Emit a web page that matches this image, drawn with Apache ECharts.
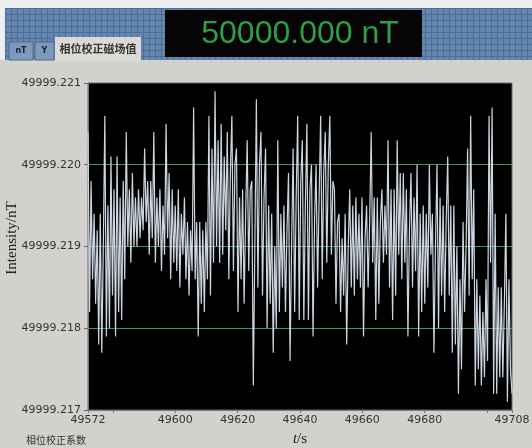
<!DOCTYPE html>
<html><head><meta charset="utf-8">
<script src="https://cdn.jsdelivr.net/npm/echarts@6/dist/echarts.min.js"></script>
<style>html,body{margin:0;padding:0;background:#d2d0cc;}#c{width:532px;height:448px;}</style>
</head><body><div id="c"></div><script>
// ---- data ----
const intensity = [
49999.2204,49999.2182,49999.2198,
49999.2186,49999.2194,49999.2183,49999.2192,
49999.2178,49999.2194,49999.2177,49999.2190,
49999.2206,49999.2179,49999.2195,
49999.2180,49999.2201,49999.2184,49999.2197,49999.2179,
49999.2201,49999.2182,49999.2196,
49999.2181,49999.2198,49999.2186,
49999.2204,49999.2190,49999.2197,
49999.2188,49999.2199,49999.2190,49999.2196,
49999.2190,49999.2197,49999.2191,49999.2196,49999.2192,
49999.2202,49999.2193,49999.2198,
49999.2189,49999.2198,49999.2191,
49999.2204,49999.2188,49999.2196,
49999.2190,49999.2197,49999.2187,49999.2195,49999.2189,
49999.2205,49999.2191,49999.2199,
49999.2186,49999.2197,49999.2188,49999.2195,
49999.2187,49999.2197,49999.2185,49999.2194,49999.2189,49999.2196,
49999.2186,49999.2193,49999.2184,49999.2192,49999.2187,
49999.2207,49999.2186,49999.2193,
49999.2179,49999.2193,49999.2183,
49999.2192,49999.2182,49999.2193,49999.2186,
49999.2206,49999.2184,49999.2202,49999.2188,
49999.2209,49999.2190,49999.2203,49999.2188,
49999.2205,49999.2189,49999.2201,49999.2192,
49999.2204,49999.2186,49999.2199,
49999.2206,49999.2187,49999.2200,
49999.2202,49999.2182,49999.2196,49999.2186,
49999.2197,49999.2183,49999.2194,
49999.2203,49999.2187,49999.2197,
49999.2198,49999.2173,49999.2190,
49999.2208,49999.2185,49999.2200,
49999.2204,49999.2184,49999.2196,
49999.2202,49999.2180,49999.2195,49999.2183,
49999.2194,49999.2177,49999.2190,49999.2180,
49999.2203,49999.2182,49999.2194,
49999.2185,49999.2195,49999.2182,49999.2192,
49999.2199,49999.2176,49999.2190,
49999.2202,49999.2182,49999.2196,
49999.2206,49999.2181,49999.2198,
49999.2203,49999.2181,49999.2195,
49999.2205,49999.2181,49999.2197,
49999.2200,49999.2179,49999.2193,
49999.2200,49999.2185,49999.2196,
49999.2206,49999.2186,49999.2199,
49999.2204,49999.2188,49999.2200,
49999.2206,49999.2189,49999.2198,
49999.2197,49999.2183,49999.2193,
49999.2194,49999.2182,49999.2191,49999.2184,
49999.2194,49999.2178,49999.2190,
49999.2197,49999.2185,49999.2195,49999.2184,49999.2196,49999.2186,49999.2194,49999.2185,
49999.2196,49999.2179,49999.2191,
49999.2195,49999.2185,49999.2193,
49999.2204,49999.2188,49999.2196,
49999.2181,49999.2196,49999.2183,49999.2193,
49999.2197,49999.2188,49999.2195,49999.2189,
49999.2203,49999.2185,49999.2197,
49999.2181,49999.2197,49999.2184,
49999.2203,49999.2189,49999.2199,
49999.2186,49999.2199,49999.2188,
49999.2197,49999.2179,49999.2192,
49999.2199,49999.2185,49999.2196,49999.2187,
49999.2200,49999.2179,49999.2194,
49999.2182,49999.2195,49999.2183,49999.2194,49999.2185,
49999.2200,49999.2189,
49999.2194,49999.2177,49999.2190,
49999.2200,49999.2180,49999.2196,49999.2184,
49999.2195,49999.2182,49999.2193,
49999.2201,49999.2184,49999.2195,
49999.2177,49999.2195,49999.2178,49999.2190,
49999.2172,49999.2186,49999.2175,
49999.2193,49999.2182,49999.2190,
49999.2202,49999.2184,
49999.2206,49999.2186,49999.2197,
49999.2173,49999.2186,49999.2175,49999.2184,49999.2173,49999.2182,
49999.2174,49999.2186,49999.2176,
49999.2206,49999.2188,
49999.2207,49999.2172,49999.2194,
49999.2172,49999.2185,49999.2174,
49999.2185,49999.2174,49999.2183,
49999.2194,49999.2171,49999.2186,
49999.2175,49999.2172
];
const tStart = 49572, tEnd = 49708;
const xLabelValues = [49572, 49600, 49620, 49640, 49660, 49680, 49708];
const xTickValues = [49572, 49580, 49600, 49620, 49640, 49660, 49680, 49700, 49708];
const yMin = 49999.217, yMax = 49999.221, yStep = 0.001;
const yName = 'Intensity/nT';
const displayText = '50000.000 nT';
const tabLabels = ['nT', 'Y', '相位校正磁场值'];
const footerLabel = '相位校正系数';

// ---- build ----
const dt = (tEnd - tStart) / (intensity.length - 1);
const seriesData = intensity.map((v, i) => [tStart + i * dt, v]);

const header = [];
header.push({type:'rect', shape:{x:0,y:0,width:532,height:8}, style:{fill:'#eceef0'}, silent:true});
header.push({type:'rect', shape:{x:0,y:8,width:5,height:52}, style:{fill:'#eceef0'}, silent:true});
header.push({type:'rect', shape:{x:5,y:8,width:527,height:52}, style:{fill:'#6688b0'}, silent:true});
for (let gx = 5; gx <= 532; gx += 6) {
  header.push({type:'line', shape:{x1:gx+0.5,y1:8,x2:gx+0.5,y2:60}, style:{stroke:'#4a6e97',lineWidth:1}, silent:true});
}
for (let gy = 8; gy <= 60; gy += 6) {
  header.push({type:'line', shape:{x1:5,y1:gy+0.5,x2:532,y2:gy+0.5}, style:{stroke:'#4a6e97',lineWidth:1}, silent:true});
}
header.push({type:'rect', shape:{x:165,y:10,width:257,height:47}, style:{fill:'#050505'}, silent:true});
header.push({type:'text', x:300, y:34, style:{text:displayText, fill:'#2f9e45', font:'32px "Liberation Sans"', align:'center', verticalAlign:'middle'}, silent:true});
header.push({type:'rect', shape:{x:9,y:42,width:24,height:18}, style:{fill:'#7d9abb', stroke:'#4b6c92', lineWidth:1}, silent:true});
header.push({type:'text', x:21, y:51, style:{text:tabLabels[0], fill:'#223', font:'bold 8px "DejaVu Sans"', align:'center', verticalAlign:'middle'}, silent:true});
header.push({type:'rect', shape:{x:35,y:42,width:19,height:18}, style:{fill:'#7d9abb', stroke:'#4b6c92', lineWidth:1}, silent:true});
header.push({type:'text', x:44.5, y:51, style:{text:tabLabels[1], fill:'#223', font:'bold 8px "DejaVu Sans"', align:'center', verticalAlign:'middle'}, silent:true});
header.push({type:'rect', shape:{x:55,y:37,width:86,height:25}, style:{fill:'#dcdad6'}, silent:true});
header.push({type:'text', x:98, y:49, style:{text:tabLabels[2], fill:'#333', font:'bold 11px "Noto Sans CJK SC"', align:'center', verticalAlign:'middle'}, silent:true});
header.push({type:'text', x:26, y:440, style:{text:footerLabel, fill:'#333', font:'10px "Noto Sans CJK SC"', align:'left', verticalAlign:'middle'}, silent:true});
// y axis title (rotated)
header.push({type:'text', x:12, y:238, rotation:Math.PI/2, style:{text:yName, fill:'#222', font:'15px "Liberation Serif"', align:'center', verticalAlign:'middle'}, silent:true});

const chart = echarts.init(document.getElementById('c'), null, {renderer:'canvas'});
chart.setOption({
  backgroundColor: '#d3d1cd',
  animation: false,
  graphic: {elements: header},
  grid: {left: 88, right: 20, top: 83, bottom: 38, containLabel: false, outerBoundsMode: 'none',
    show: true, backgroundColor: '#000', borderColor: '#6e6e6e', borderWidth: 1},
  xAxis: {
    type: 'value', min: tStart, max: tEnd,
    name: '{i|t}/s', nameLocation: 'middle', nameGap: 22,
    nameTextStyle: {fontFamily: 'Liberation Serif', fontSize: 15, color: '#222',
      rich: {i: {fontFamily: 'Liberation Serif', fontStyle: 'italic', fontSize: 15, color: '#222'}}},
    axisLine: {show: true, lineStyle: {color: '#777'}},
    axisTick: {show: true, length: 3, customValues: xTickValues, lineStyle: {color: '#777'}},
    axisLabel: {customValues: xLabelValues, color: '#333', fontFamily: 'DejaVu Sans', fontSize: 11, margin: 5,
      showMinLabel: true, showMaxLabel: true, formatter: v => String(Math.round(v))},
    splitLine: {show: false}
  },
  yAxis: {
    type: 'value', min: yMin, max: yMax, interval: yStep,
    axisLine: {show: true, lineStyle: {color: '#777'}},
    axisTick: {show: true, length: 4, lineStyle: {color: '#666'}},
    axisLabel: {color: '#333', fontFamily: 'DejaVu Sans', fontSize: 11, margin: 7, formatter: v => v.toFixed(3)},
    splitLine: {show: true, showMinLine: false, showMaxLine: false, lineStyle: {color: '#3f9a50', width: 1, opacity: 1}}
  },
  series: [{
    type: 'line', data: seriesData, showSymbol: false, symbol: 'none',
    lineStyle: {color: '#cdd6e0', width: 1.2}, sampling: null, z: 3
  }]
});
</script></body></html>
